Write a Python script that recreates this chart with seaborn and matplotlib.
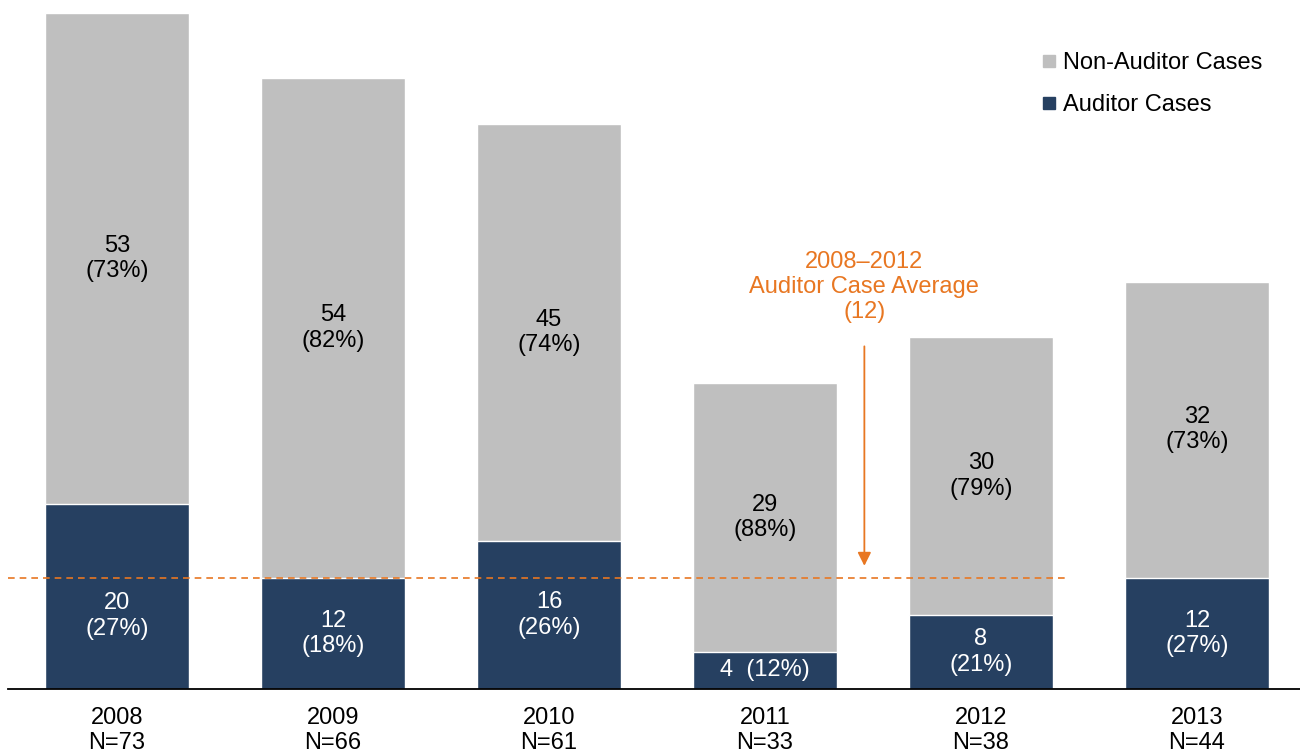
import pandas as pd
import numpy as np
import matplotlib.pyplot as plt
import seaborn as sns
from matplotlib.lines import Line2D

# Data
years = ["2008", "2009", "2010", "2011", "2012", "2013"]
auditor = [20, 12, 16, 4, 8, 12]
non_auditor = [53, 54, 45, 29, 30, 32]
avg_2008_2012 = 12

NAVY = "#264061"
GREY = "#BFBFBF"
ORANGE = "#E87722"
FS = 17
LS = 1.2

totals = [a + n for a, n in zip(auditor, non_auditor)]
df = pd.DataFrame({"Year": years, "Auditor": auditor, "NonAuditor": non_auditor, "Total": totals})

sns.set_style("white")
plt.rcParams["font.family"] = ["Liberation Sans", "DejaVu Sans"]
plt.rcParams["text.color"] = "black"
plt.rcParams["xtick.color"] = "black"

fig = plt.figure(figsize=(13, 7.53), dpi=100)
ax = fig.add_axes([8 / 1300, 64 / 753, 1292 / 1300, 689 / 753])

# stacked bars: total in grey, auditor part in navy over it
sns.barplot(data=df, x="Year", y="Total", color=GREY, width=0.667, saturation=1, ax=ax)
sns.barplot(data=df, x="Year", y="Auditor", color=NAVY, width=0.667, saturation=1, ax=ax)

ax.set_xlim(-0.505, 5.477)
ax.set_ylim(0, 74.4)

# segment labels
for i, (a, n, t) in enumerate(zip(auditor, non_auditor, totals)):
    pa = round(a / t * 100)
    pn = round(n / t * 100)
    if a < 6:
        ax.text(i, a / 2, f"{a}  ({pa}%)", ha="center", va="center", color="white", fontsize=FS)
    else:
        ya = a / 2
        if ya + 3 > avg_2008_2012:
            ya = avg_2008_2012 - 4.1  # keep label below the average line
        ax.text(i, ya, f"{a}\n({pa}%)", ha="center", va="center", color="white",
                fontsize=FS, linespacing=LS)
    ax.text(i, a + n / 2, f"{n}\n({pn}%)", ha="center", va="center", color="black",
            fontsize=FS, linespacing=LS)

# average line and annotation
ax.plot([-0.505, 4.40], [avg_2008_2012, avg_2008_2012], color=ORANGE, lw=1.2, ls=(0, (4, 3)))
ax.annotate("", xy=(3.46, 13.0), xytext=(3.46, 37.3),
            arrowprops=dict(arrowstyle="-|>", color=ORANGE, lw=1.3, mutation_scale=20))
ax.text(3.46, 43.4, f"2008\u20132012\nAuditor Case Average\n({avg_2008_2012})", ha="center",
        va="center", color=ORANGE, fontsize=FS, linespacing=LS)

# axis styling
ax.set_xlabel("")
ax.set_ylabel("")
ax.set_yticks([])
ax.set_xticks(range(len(years)))
ax.set_xticklabels([f"{y}\nN={t}" for y, t in zip(years, totals)], fontsize=FS, linespacing=LS)
ax.tick_params(axis="x", length=0, pad=13)
for s in ["top", "right", "left"]:
    ax.spines[s].set_visible(False)
ax.spines["bottom"].set_color("black")
ax.spines["bottom"].set_linewidth(1.3)

# legend
handles = [
    Line2D([], [], marker="s", ls="", color=GREY, markersize=8),
    Line2D([], [], marker="s", ls="", color=NAVY, markersize=8),
]
fig.legend(handles, ["Non-Auditor Cases", "Auditor Cases"], loc="upper left",
           bbox_to_anchor=(1030 / 1300, 1 - 40 / 753), frameon=False, fontsize=FS,
           handlelength=0.6, handletextpad=0.3, labelspacing=0.85, borderpad=0)

fig.savefig("out.png", dpi=100)
